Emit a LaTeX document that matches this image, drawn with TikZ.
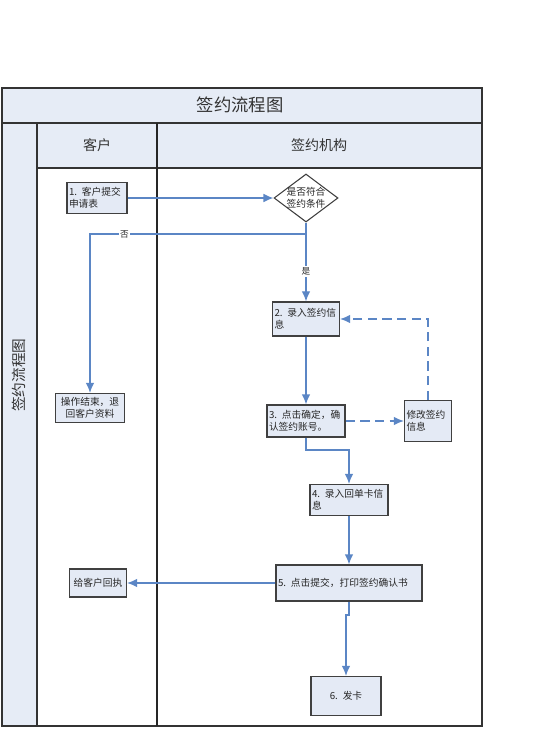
\documentclass[tikz,border=0pt]{standalone}
\usepackage{fontspec}
\setmainfont{Noto Sans CJK SC}
\usetikzlibrary{arrows.meta,shapes.geometric}

\definecolor{headfill}{HTML}{E6ECF6}
\definecolor{boxfill}{HTML}{E4EAF5}
\definecolor{flowblue}{HTML}{5B86C5}

\tikzset{
  stepbox/.style={draw=black!75, line width=1pt, fill=boxfill, align=left,
    inner sep=1.5pt, text=black!85, font=\fontsize{7.3}{9}\selectfont},
  endbox/.style={stepbox, align=center},
  decision/.style={draw=black!75, line width=0.8pt, fill=white, diamond,
    minimum width=48pt, minimum height=36pt, inner sep=0pt},
  flow/.style={draw=flowblue, line width=1pt, -{Latex[length=7.5pt,width=6.5pt]}},
  flowlabel/.style={fill=white, inner sep=1pt, text=black!85, font=\fontsize{6.5}{7}\selectfont},
}

\begin{document}
\begin{tikzpicture}[x=0.75pt, y=-0.75pt]
  \useasboundingbox (0,0) rectangle (558,730);

  % pool and lanes
  \fill[headfill] (2,88) rectangle (482,123);
  \fill[headfill] (37,123) rectangle (482,168);
  \fill[headfill] (2,123) rectangle (37,726);
  \draw[line width=1pt, black!80] (2,88) rectangle (482,726);
  \draw[line width=1pt, black!80] (2,123) -- (482,123);
  \draw[line width=1pt, black!80] (37,123) -- (37,726);
  \draw[line width=1pt, black!80] (37,168) -- (482,168);
  \draw[line width=1.2pt, black!85] (157,123) -- (157,726);

  \node[text=black!80, font=\fontsize{13}{15}\selectfont] (title) at (240,105) {签约流程图};
  \node[text=black!80, font=\fontsize{10.5}{12}\selectfont] (lanecust) at (97,145) {客户};
  \node[text=black!80, font=\fontsize{10.5}{12}\selectfont] (laneorg) at (319,145) {签约机构};
  \node[text=black!80, font=\fontsize{11}{13}\selectfont, rotate=90] (pool) at (19,375) {签约流程图};

  % steps
  \node[stepbox, text width=42pt, minimum height=23.25pt] (apply) at (97,198) {1. 客户提交\\申请表};
  \node[decision] (check) at (306,198) {};
  \node[text=black!85, font=\fontsize{7.3}{9}\selectfont, align=center] (checktext) at (306,198) {是否符合\\签约条件};
  \node[endbox, text width=48.75pt, minimum height=21.75pt] (reject) at (90,408) {操作结束，退\\回客户资料};
  \node[stepbox, text width=47.25pt, minimum height=25.5pt] (enter) at (306,319) {2. 录入签约信\\息};
  \node[stepbox, text width=55.5pt, minimum height=24pt] (confirm) at (306,421) {3. 点击确定，确\\认签约账号。};
  \node[stepbox, text width=32.25pt, minimum height=30.75pt] (modify) at (428,421) {修改签约\\信息};
  \node[stepbox, text width=55.5pt, minimum height=23.25pt] (receipt) at (349,500) {4. 录入回单卡信\\息};
  \node[stepbox, text width=106.5pt, minimum height=27pt] (print) at (349,583) {5. 点击提交，打印签约确认书};
  \node[endbox, text width=39.75pt, minimum height=21pt] (reply) at (98,583) {给客户回执};
  \node[endbox, text width=49.5pt, minimum height=29.25pt] (issue) at (346,696) {6. 发卡};

  % connectors
  \path (306,234) coordinate (nobend);
  \path (306,450) coordinate (jog1);
  \path (349,615) coordinate (jog2);

  \draw[flow] (apply) -- (check);
  \draw[flow] (check.south) -- (nobend) -| node[flowlabel, pos=0.42] {否} (reject.north);
  \draw[flow] (check.south) -- node[flowlabel, pos=0.62] {是} (enter.north);
  \draw[flow] (enter) -- (confirm);
  \draw[flow, dashed, dash pattern=on 7pt off 4pt] (confirm) -- (modify);
  \draw[flow, dashed, dash pattern=on 7pt off 4pt] (modify.north) |- (enter.east);
  \draw[flow] (confirm.south) -- (jog1) -| (receipt.north);
  \draw[flow] (receipt) -- (print);
  \draw[flow] (print) -- (reply);
  \draw[flow] (print.south) -- (jog2) -| (issue.north);

\end{tikzpicture}
\end{document}
